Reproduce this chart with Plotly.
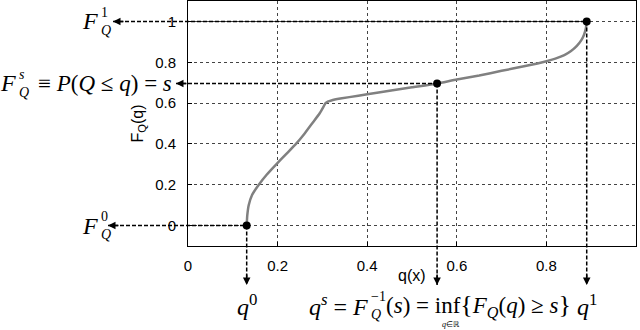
import plotly.graph_objects as go

# curve F_Q(q)
q_vals = [0.131, 0.1323, 0.1355, 0.143, 0.158, 0.176, 0.197, 0.219, 0.241, 0.260, 0.277,
          0.294, 0.302, 0.307, 0.312, 0.320, 0.340, 0.380, 0.400, 0.450, 0.500, 0.556,
          0.600, 0.650, 0.700, 0.750, 0.800, 0.820, 0.840, 0.855, 0.868, 0.878, 0.884,
          0.888, 0.890]
F_vals = [0.000, 0.050, 0.100, 0.150, 0.200, 0.250, 0.300, 0.350, 0.400, 0.450, 0.500,
          0.550, 0.580, 0.600, 0.607, 0.613, 0.622, 0.636, 0.643, 0.660, 0.677, 0.696,
          0.716, 0.735, 0.758, 0.780, 0.805, 0.818, 0.835, 0.855, 0.880, 0.908, 0.935,
          0.965, 1.000]

# marked points q^0, q^s, q^1
pt_q = [0.131, 0.556, 0.890]
pt_F = [0.0, 0.696, 1.0]

tick_vals = [0, 0.2, 0.4, 0.6, 0.8, 1]
tick_text = ["0", "0.2", "0.4", "0.6", "0.8", "1"]

# plot area in pixels
L, T, W, H = 188, 1, 448, 245
YMIN, YMAX = -0.1, 1.1

def px(x):
    return (x - L) / W

def py(y):
    return (T + H - y) / H

def ypaper(v):
    return (v - YMIN) / (YMAX - YMIN)

SERIF = "Liberation Serif"
SANS = "Liberation Sans"

fig = go.Figure()
fig.add_trace(go.Scatter(x=q_vals, y=F_vals, mode="lines", line=dict(color="#808080", width=2.5, shape="spline", smoothing=0.5),
                         showlegend=False, hoverinfo="skip"))
fig.add_trace(go.Scatter(x=pt_q, y=pt_F, mode="markers", marker=dict(color="black", size=8),
                         cliponaxis=False, showlegend=False))

# dashed guide lines + arrow heads
left_tips = [px(108), px(176), px(113)]   # for F0, Fs, F1
for xq, yF, tip in zip(pt_q, pt_F, left_tips):
    fig.add_shape(type="line", xref="paper", yref="y", x0=tip, x1=xq, y0=yF, y1=yF,
                  line=dict(color="black", width=1.5, dash="4px,2px"))
    fig.add_annotation(xref="paper", yref="y", x=tip, y=yF, ax=12, ay=0, text="",
                       showarrow=True, arrowhead=2, arrowsize=1, arrowwidth=1.5, arrowcolor="black")
    fig.add_shape(type="line", xref="x", yref="paper", x0=xq, x1=xq, y0=ypaper(yF), y1=py(285),
                  line=dict(color="black", width=1.5, dash="4px,2px"))
    fig.add_annotation(xref="x", yref="paper", x=xq, y=py(285), ax=0, ay=-12, text="",
                       showarrow=True, arrowhead=2, arrowsize=1, arrowwidth=1.5, arrowcolor="black")

def ann(text, x, y, size=24, xanchor="center", yanchor="middle", xref="paper", yref="paper", font=SERIF, angle=0, align="left"):
    fig.add_annotation(text=text, x=x, y=y, xref=xref, yref=yref, xanchor=xanchor, yanchor=yanchor,
                       showarrow=False, textangle=angle, align=align,
                       font=dict(family=font, size=size, color="black"))

def fsym(xright, y, sup, yref="y"):
    ann("<i>F</i>", xright, y, xanchor="right", yref=yref)
    ann(sup + "<br><i>Q</i>", xright - 0.003, y, size=14, xanchor="left", yref=yref)

# left labels
fsym(px(100), 1.0, "1")
fsym(px(100), 0.0, "0")
fsym(px(18), pt_F[1], "<i>s</i>")
ann("≡ <i>P</i>(<i>Q</i> ≤ <i>q</i>) = <i>s</i>", px(174), pt_F[1], size=23, xanchor="right", yref="y")

# bottom labels
ann("<i>q</i><sup>0</sup>", pt_q[0], py(305), xref="x")
ann("<i>q</i><sup>1</sup>", pt_q[2], py(305), xref="x")
ann("<i>q</i><sup><i>s</i></sup> = <i>F</i>", px(370), py(305), xanchor="right")
ann("−1<br><i>Q</i>", px(369), py(305), size=14, xanchor="left")
ann("(<i>s</i>) = inf<span style='font-size:26px'>{</span><i>F</i><sub><i>Q</i></sub>(<i>q</i>) ≥ <i>s</i><span style='font-size:26px'>}</span>",
    px(384), py(305), size=23, xanchor="left")
ann("<i>q</i>∈ℝ", px(451), py(324), size=8)

# axis titles
ann("q(x)", 0.5, py(275), size=16, font=SANS)
ann("F<sub>Q</sub>(q)", px(138), 0.5, size=16, font=SANS, angle=-90)

fig.update_xaxes(range=[0, 1], tickvals=tick_vals, ticktext=tick_text, ticks="inside", ticklen=4,
                 tickcolor="black", showline=True, linecolor="black", linewidth=1, mirror=True,
                 showgrid=True, gridcolor="#444444", griddash="dot", gridwidth=1, zeroline=False,
                 ticklabelstandoff=6, tickfont=dict(family=SANS, size=15, color="black"))
fig.update_yaxes(range=[YMIN, YMAX], tickvals=tick_vals, ticktext=tick_text, ticks="inside", ticklen=4,
                 tickcolor="black", showline=True, linecolor="black", linewidth=1, mirror=True,
                 showgrid=True, gridcolor="#444444", griddash="dot", gridwidth=1, zeroline=False,
                 ticklabelstandoff=8, tickfont=dict(family=SANS, size=15, color="black"))
fig.update_layout(width=640, height=330, margin=dict(l=L, r=640 - L - W, t=T, b=330 - T - H),
                  plot_bgcolor="white", paper_bgcolor="white", showlegend=False)

fig.write_html("out.html", config={"displayModeBar": False},
               post_script="document.body.style.margin='0';")
